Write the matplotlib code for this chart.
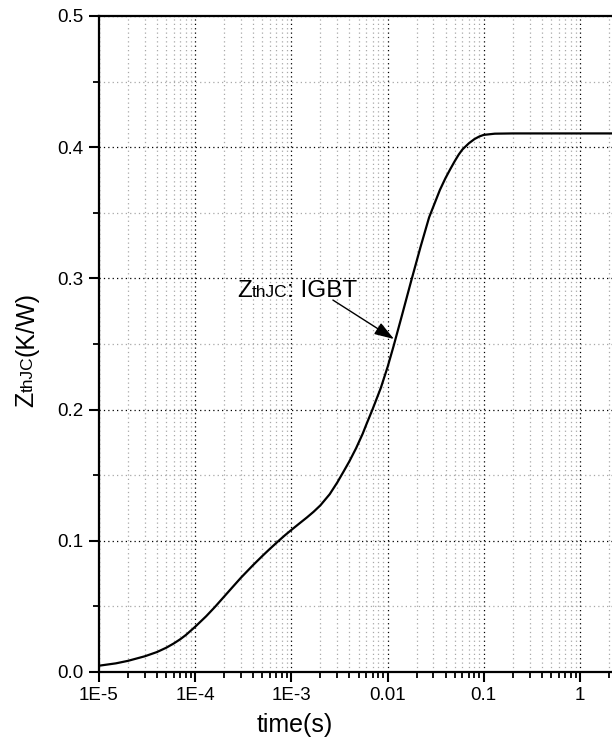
import matplotlib
matplotlib.use("Agg")
import matplotlib.pyplot as plt
from matplotlib.ticker import FixedLocator, FixedFormatter, NullFormatter

plt.rcParams['font.family'] = ['Liberation Sans', 'DejaVu Sans']

# ---- data ----
time_s = [1e-5, 1.5e-5, 2e-5, 3e-5, 4e-5, 5e-5, 6e-5, 7e-5, 8e-5, 1e-4,
          1.3e-4, 1.6e-4, 2e-4, 2.5e-4, 3e-4, 4e-4, 5e-4, 6e-4, 7.3e-4, 8.5e-4,
          1e-3, 1.2e-3, 1.45e-3, 1.7e-3, 2e-3, 2.5e-3, 3e-3, 3.5e-3, 4e-3, 4.7e-3,
          5.5e-3, 6e-3, 7e-3, 8.5e-3, 1e-2, 1.15e-2, 1.4e-2, 1.75e-2, 2.2e-2, 2.7e-2,
          3.5e-2, 4e-2, 4.5e-2, 5e-2, 5.5e-2, 6e-2, 7e-2, 8e-2, 9e-2, 0.1,
          0.13, 0.2, 0.5, 1.0, 2.2]
zth = [0.0048, 0.0066, 0.0085, 0.0120, 0.0152, 0.0185, 0.0218, 0.0250, 0.0282, 0.0345,
       0.0425, 0.0495, 0.0575, 0.0655, 0.0720, 0.0815, 0.0885, 0.0940, 0.0997, 0.1040,
       0.1083, 0.1130, 0.1178, 0.1221, 0.1270, 0.1355, 0.1445, 0.1530, 0.1605, 0.1705,
       0.1815, 0.1885, 0.2005, 0.2165, 0.2325, 0.2480, 0.2710, 0.2975, 0.3240, 0.3465,
       0.3675, 0.3765, 0.3835, 0.3895, 0.3945, 0.3983, 0.4030, 0.4062, 0.4082, 0.4094,
       0.4103, 0.4105, 0.4105, 0.4105, 0.4105]

x_major = [1e-5, 1e-4, 1e-3, 1e-2, 1e-1, 1.0]
x_major_labels = ["1E-5", "1E-4", "1E-3", "0.01", "0.1", "1"]
y_major = [0.0, 0.1, 0.2, 0.3, 0.4, 0.5]
y_major_labels = ["0.0", "0.1", "0.2", "0.3", "0.4", "0.5"]
y_minor = [0.05, 0.15, 0.25, 0.35, 0.45]

W, H = 612, 743
fig = plt.figure(figsize=(W / 100, H / 100), dpi=100)
ax = fig.add_axes([99 / W, 71 / H, 513 / W, 656 / H])

ax.set_xscale('log')
ax.set_xlim(1e-5, 10 ** (-5 + 513 / 96.2))
ax.set_ylim(0.0, 0.5)

ax.plot(time_s, zth, color='black', lw=1.6, solid_joinstyle='round',
        solid_capstyle='round', zorder=3)

# ticks
ax.xaxis.set_major_locator(FixedLocator(x_major))
ax.xaxis.set_major_formatter(FixedFormatter(x_major_labels))
x_minor = [m * d for d in [1e-5, 1e-4, 1e-3, 1e-2, 1e-1, 1.0] for m in range(2, 10)]
ax.xaxis.set_minor_locator(FixedLocator(x_minor))
ax.xaxis.set_minor_formatter(NullFormatter())
ax.yaxis.set_major_locator(FixedLocator(y_major))
ax.yaxis.set_major_formatter(FixedFormatter(y_major_labels))
ax.yaxis.set_minor_locator(FixedLocator(y_minor))

ax.tick_params(which='major', direction='out', length=7, width=1.5, labelsize=13.5,
               pad=4, colors='black', top=False, right=False)
ax.tick_params(which='minor', direction='out', length=4, width=1.3, top=False, right=False)

for s in ['left', 'bottom', 'top']:
    ax.spines[s].set_linewidth(1.6)
ax.spines['right'].set_visible(False)

# grids
ax.grid(which='major', color='black', linestyle=(0, (1, 2.5)), lw=0.9, zorder=0)
ax.grid(which='minor', color='#a8a8a8', linestyle=(0, (1, 2.5)), lw=0.9, zorder=0)
ax.set_axisbelow(True)

# x label
fig.text(295 / W, 11 / H, "time(s)", fontsize=18, ha='center', va='baseline')

# y label: Z + smaller thJC + (K/W), rotated
big, small = 18, 12.5
prev = fig.text(33, 336, "Z", fontsize=big, rotation=90, rotation_mode='anchor',
                ha='left', va='baseline', transform=None)
for s, fs in [("thJC", small), ("(K/W)", big)]:
    prev = ax.annotate(s, xy=(33, 1), xycoords=('figure pixels', prev), fontsize=fs,
                       rotation=90, rotation_mode='anchor', ha='left', va='baseline',
                       annotation_clip=False)

# annotation text in plot
tx, ty = 2.72e-4, 0.2858
prev = ax.text(tx, ty, "Z", fontsize=17.5, ha='left', va='baseline')
for s, fs in [("thJC", 12.5), (": IGBT", 17.5)]:
    prev = ax.annotate(s, xy=(1, ty), xycoords=(prev, 'data'), fontsize=fs,
                       ha='left', va='baseline')

ax.annotate('', xy=(0.01165, 0.2538), xytext=(2.70e-3, 0.2835),
            arrowprops=dict(arrowstyle='-|>,head_length=0.75,head_width=0.25',
                            color='black', lw=1.0, shrinkA=0, shrinkB=0,
                            mutation_scale=16))

fig.savefig("out.png", dpi=100)
